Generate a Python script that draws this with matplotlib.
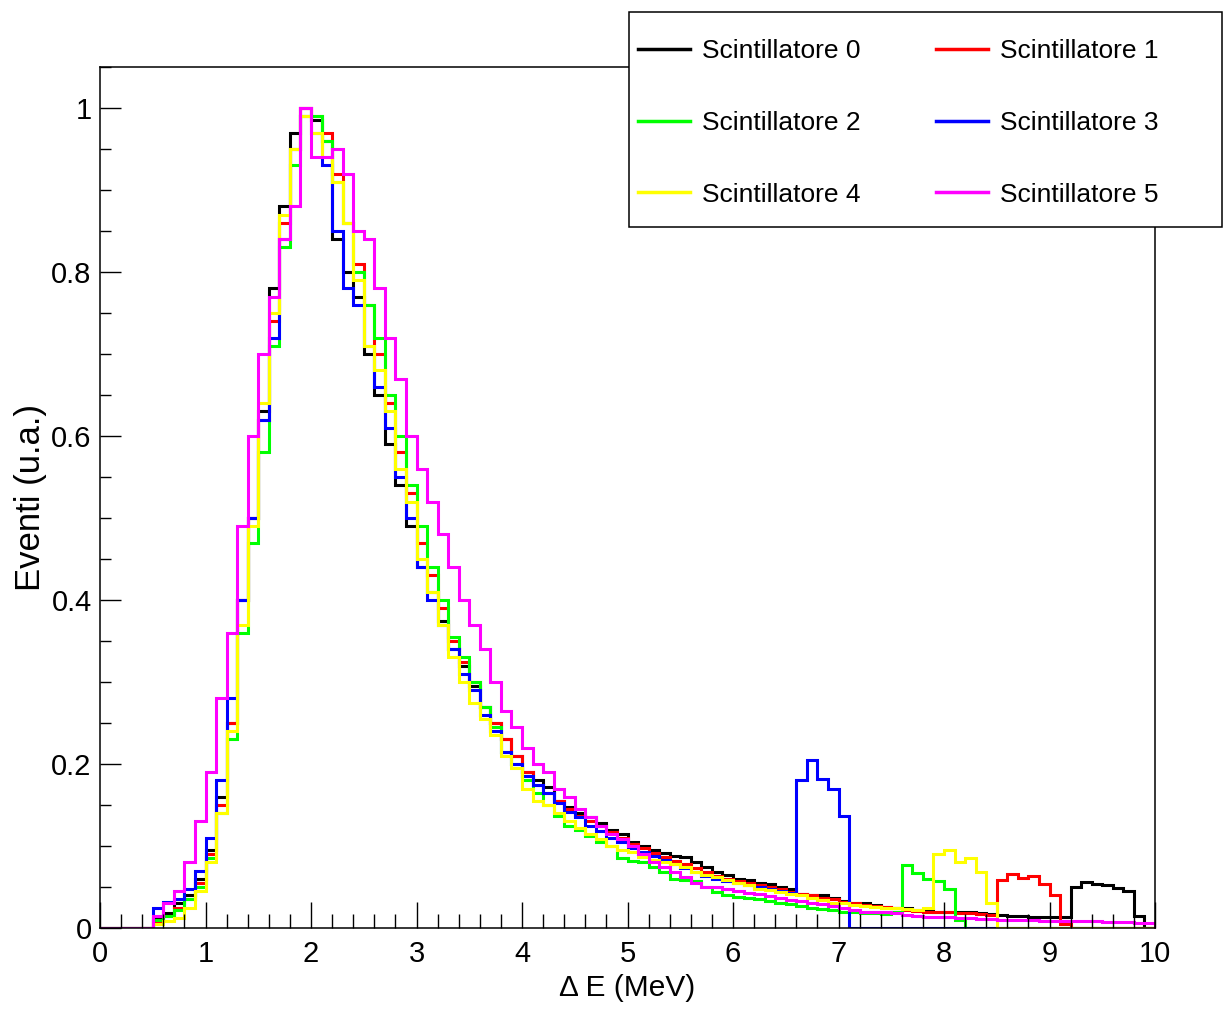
import numpy as np
import matplotlib
matplotlib.use("Agg")
import matplotlib.pyplot as plt
from matplotlib.patches import Rectangle
from matplotlib.ticker import MultipleLocator

# istogrammi normalizzati, bin da 0.1 MeV tra 0 e 10 MeV
e_min, e_max = 0.0, 10.0

s0 = [0, 0, 0, 0, 0, 0.012, 0.018, 0.03, 0.04, 0.06,
      0.095, 0.16, 0.25, 0.40, 0.50, 0.63, 0.78, 0.88, 0.97, 1.0,
      0.985, 0.96, 0.84, 0.80, 0.77, 0.70, 0.65, 0.59, 0.54, 0.49,
      0.44, 0.41, 0.375, 0.34, 0.32, 0.295, 0.27, 0.25, 0.23, 0.21,
      0.19, 0.18, 0.172, 0.155, 0.148, 0.14, 0.135, 0.128, 0.12, 0.115,
      0.105, 0.10, 0.095, 0.092, 0.088, 0.087, 0.08, 0.075, 0.068, 0.065,
      0.06, 0.058, 0.055, 0.054, 0.05, 0.047, 0.042, 0.04, 0.04, 0.037,
      0.033, 0.03, 0.03, 0.028, 0.026, 0.025, 0.024, 0.022, 0.022, 0.02,
      0.02, 0.02, 0.019, 0.018, 0.017, 0.016, 0.015, 0.015, 0.014, 0.014,
      0.013, 0.013, 0.05, 0.056, 0.054, 0.052, 0.049, 0.045, 0.015, 0.0]

s1 = [0, 0, 0, 0, 0, 0.008, 0.015, 0.025, 0.035, 0.055,
      0.09, 0.15, 0.25, 0.40, 0.50, 0.62, 0.74, 0.86, 0.95, 1.0,
      0.99, 0.97, 0.92, 0.86, 0.81, 0.76, 0.70, 0.64, 0.58, 0.53,
      0.47, 0.43, 0.39, 0.35, 0.325, 0.30, 0.27, 0.25, 0.23, 0.21,
      0.19, 0.175, 0.165, 0.155, 0.145, 0.137, 0.13, 0.125, 0.117, 0.11,
      0.102, 0.097, 0.092, 0.087, 0.082, 0.078, 0.073, 0.068, 0.064, 0.06,
      0.057, 0.055, 0.052, 0.05, 0.047, 0.044, 0.042, 0.04, 0.037, 0.035,
      0.032, 0.03, 0.028, 0.027, 0.026, 0.024, 0.022, 0.021, 0.02, 0.02,
      0.019, 0.018, 0.018, 0.017, 0.016, 0.058, 0.066, 0.061, 0.063, 0.054,
      0.04, 0.005, 0, 0, 0, 0, 0, 0, 0, 0]

s2 = [0, 0, 0, 0, 0, 0.01, 0.015, 0.022, 0.035, 0.05,
      0.085, 0.14, 0.23, 0.36, 0.47, 0.58, 0.71, 0.83, 0.93, 0.99,
      0.99, 0.96, 0.91, 0.86, 0.80, 0.76, 0.72, 0.65, 0.60, 0.54,
      0.49, 0.44, 0.40, 0.355, 0.33, 0.30, 0.27, 0.245, 0.215, 0.20,
      0.18, 0.165, 0.15, 0.137, 0.125, 0.12, 0.112, 0.105, 0.10, 0.085,
      0.082, 0.08, 0.075, 0.068, 0.06, 0.058, 0.057, 0.05, 0.044, 0.04,
      0.038, 0.037, 0.035, 0.033, 0.031, 0.029, 0.027, 0.025, 0.023, 0.022,
      0.02, 0.019, 0.018, 0.018, 0.017, 0.02, 0.077, 0.067, 0.06, 0.057,
      0.047, 0.01, 0, 0, 0, 0, 0, 0, 0, 0,
      0, 0, 0, 0, 0, 0, 0, 0, 0, 0]

s3 = [0, 0, 0, 0, 0, 0.025, 0.032, 0.035, 0.048, 0.07,
      0.11, 0.18, 0.28, 0.40, 0.50, 0.62, 0.72, 0.84, 0.95, 0.99,
      0.97, 0.93, 0.85, 0.78, 0.76, 0.71, 0.66, 0.61, 0.55, 0.50,
      0.44, 0.40, 0.37, 0.34, 0.31, 0.29, 0.26, 0.24, 0.215, 0.20,
      0.185, 0.175, 0.165, 0.152, 0.142, 0.135, 0.125, 0.118, 0.11, 0.105,
      0.098, 0.093, 0.088, 0.083, 0.078, 0.073, 0.068, 0.063, 0.06, 0.057,
      0.055, 0.052, 0.05, 0.047, 0.045, 0.043, 0.18, 0.205, 0.182, 0.17,
      0.136, 0, 0, 0, 0, 0, 0, 0, 0, 0,
      0, 0, 0, 0, 0, 0, 0, 0, 0, 0,
      0, 0, 0, 0, 0, 0, 0, 0, 0, 0]

s4 = [0, 0, 0, 0, 0, 0.005, 0.008, 0.012, 0.025, 0.045,
      0.08, 0.14, 0.24, 0.37, 0.49, 0.64, 0.75, 0.87, 0.95, 0.99,
      0.97, 0.94, 0.91, 0.86, 0.79, 0.71, 0.68, 0.63, 0.56, 0.52,
      0.45, 0.41, 0.37, 0.33, 0.30, 0.275, 0.255, 0.235, 0.21, 0.195,
      0.17, 0.155, 0.15, 0.14, 0.13, 0.122, 0.115, 0.108, 0.10, 0.095,
      0.093, 0.087, 0.083, 0.08, 0.078, 0.075, 0.068, 0.065, 0.062, 0.058,
      0.055, 0.052, 0.048, 0.046, 0.044, 0.042, 0.04, 0.037, 0.034, 0.031,
      0.03, 0.028, 0.027, 0.026, 0.025, 0.024, 0.023, 0.022, 0.025, 0.09,
      0.095, 0.08, 0.085, 0.068, 0.03, 0, 0, 0, 0, 0,
      0, 0, 0, 0, 0, 0, 0, 0, 0, 0]

s5 = [0, 0, 0, 0, 0, 0.015, 0.03, 0.045, 0.08, 0.13,
      0.19, 0.28, 0.36, 0.49, 0.60, 0.70, 0.77, 0.84, 0.88, 1.0,
      0.94, 0.94, 0.95, 0.92, 0.85, 0.84, 0.78, 0.72, 0.67, 0.60,
      0.56, 0.52, 0.48, 0.44, 0.40, 0.37, 0.34, 0.30, 0.265, 0.245,
      0.22, 0.20, 0.19, 0.17, 0.16, 0.145, 0.135, 0.125, 0.115, 0.108,
      0.10, 0.09, 0.08, 0.075, 0.068, 0.062, 0.055, 0.05, 0.05, 0.047,
      0.045, 0.043, 0.041, 0.039, 0.036, 0.034, 0.033, 0.031, 0.029, 0.027,
      0.025, 0.022, 0.02, 0.02, 0.019, 0.018, 0.016, 0.015, 0.014, 0.013,
      0.013, 0.012, 0.012, 0.011, 0.011, 0.01, 0.01, 0.01, 0.01, 0.009,
      0.009, 0.009, 0.008, 0.008, 0.008, 0.007, 0.007, 0.007, 0.006, 0.006]

series = [s0, s1, s2, s3, s4, s5]
labels = ["Scintillatore %d" % i for i in range(6)]
colors = ["#000000", "#ff0000", "#00ff00", "#0000ff", "#ffff00", "#ff00ff"]

font = "Liberation Sans"

fig = plt.figure(figsize=(12.29, 10.10), dpi=100)
ax = fig.add_axes([100 / 1229, 1 - 928 / 1010, 1055 / 1229, 861 / 1010])

edges = np.linspace(e_min, e_max, len(s0) + 1)
for vals, col, lab in zip(series, colors, labels):
    ax.stairs(vals, edges, color=col, lw=2.2, label=lab)

ax.set_xlim(0, 10)
ax.set_ylim(0, 1.05)
ax.xaxis.set_major_locator(MultipleLocator(1))
ax.xaxis.set_minor_locator(MultipleLocator(0.2))
ax.yaxis.set_minor_locator(MultipleLocator(0.05))
ax.set_yticks([0, 0.2, 0.4, 0.6, 0.8, 1.0])
ax.set_yticklabels(["0", "0.2", "0.4", "0.6", "0.8", "1"])
ax.tick_params(which="both", direction="in", top=False, right=False,
               labelsize=21, width=1.0)
ax.tick_params(axis="x", which="major", length=19, pad=9)
ax.tick_params(axis="x", which="minor", length=10)
ax.tick_params(axis="y", which="major", length=15, pad=6)
ax.tick_params(axis="y", which="minor", length=8)
for lb in ax.get_xticklabels() + ax.get_yticklabels():
    lb.set_family(font)
for sp in ax.spines.values():
    sp.set_linewidth(1.1)

ax.set_xlabel("Δ E (MeV)", fontsize=21.5, family=font, labelpad=4)
ax.set_ylabel("Eventi (u.a.)", fontsize=25, family=font, labelpad=3)

# riquadro della legenda, sopra al bordo del grafico
box = Rectangle((629 / 1229, 1 - 227 / 1010), 593 / 1229, 215 / 1010,
                transform=fig.transFigure, facecolor="white",
                edgecolor="black", lw=1.1, zorder=5)
fig.patches.append(box)

# ordine per righe come in ROOT: 0 1 / 2 3 / 4 5
h, l = ax.get_legend_handles_labels()
order = [0, 2, 4, 1, 3, 5]
leg = fig.legend([h[i] for i in order], [l[i] for i in order],
                 loc="upper left", bbox_to_anchor=(638 / 1229, 1 - 39 / 1010),
                 borderaxespad=0, ncol=2, frameon=False, handlelength=1.97,
                 handletextpad=0.45, columnspacing=2.85, labelspacing=1.81,
                 borderpad=0, prop={"family": font, "size": 19})
leg.set_zorder(6)
for ln in leg.get_lines():
    ln.set_linewidth(2.5)

fig.savefig("out.png", dpi=100)
